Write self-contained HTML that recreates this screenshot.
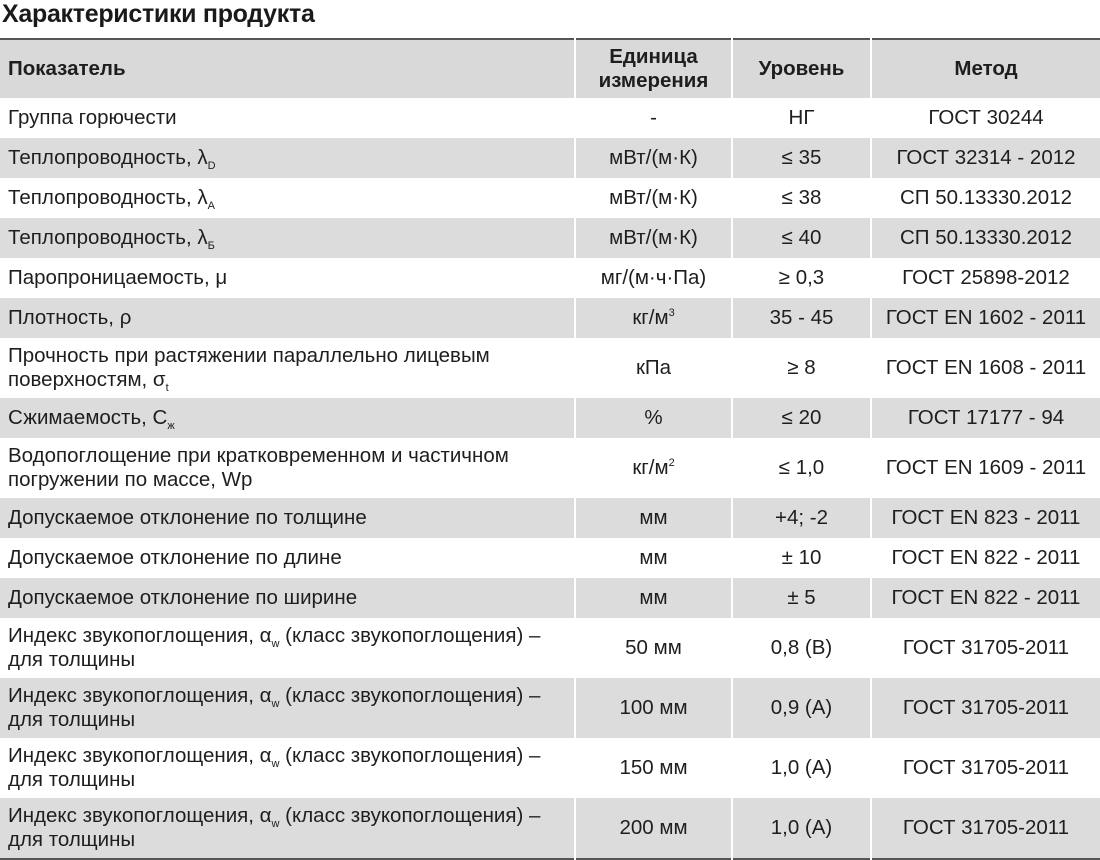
<!DOCTYPE html>
<html><head><meta charset="utf-8"><style>
body{margin:0;width:1100px;height:857px;background:#fff;font-family:"Liberation Sans","DejaVu Sans",sans-serif;color:#1e1e1e;overflow:hidden;position:relative}
h1{position:absolute;left:2px;top:0;margin:0;font-size:25px;font-weight:bold;line-height:28px;color:#1a1a1a;letter-spacing:-0.3px}
table{position:absolute;left:0;top:38px;width:1100px;border-collapse:collapse;border-top:2px solid #555;border-bottom:2px solid #555;font-size:20.5px;table-layout:fixed}
td,th{padding:0 8px;border-left:2px solid #fff;border-right:2px solid #fff;text-align:center;line-height:24px;overflow:hidden;white-space:nowrap}
td:first-child,th:first-child{text-align:left;border-left:none}
td:last-child,th:last-child{border-right:none}
th{font-weight:bold;height:58px;background:#d9d9d9}
tr.g td{background:#dcdcdc}
tr td{height:40px;padding-top:0;padding-bottom:0}
tr.t td{height:60px}
sub,sup{font-size:11px;line-height:0;vertical-align:baseline;position:relative}
sub{top:5px}
sup{top:-8px}
</style></head><body>
<h1>Характеристики продукта</h1>
<table>
<colgroup><col style="width:575px"><col style="width:157px"><col style="width:139px"><col style="width:229px"></colgroup>
<tr><th>Показатель</th><th>Единица<br>измерения</th><th>Уровень</th><th>Метод</th></tr>
<tr><td>Группа горючести</td><td>-</td><td>НГ</td><td>ГОСТ 30244</td></tr>
<tr class="g"><td>Теплопроводность, λ<sub>D</sub></td><td>мВт/(м·К)</td><td>≤ 35</td><td>ГОСТ 32314 - 2012</td></tr>
<tr><td>Теплопроводность, λ<sub>А</sub></td><td>мВт/(м·К)</td><td>≤ 38</td><td>СП 50.13330.2012</td></tr>
<tr class="g"><td>Теплопроводность, λ<sub>Б</sub></td><td>мВт/(м·К)</td><td>≤ 40</td><td>СП 50.13330.2012</td></tr>
<tr><td>Паропроницаемость, μ</td><td>мг/(м·ч·Па)</td><td>≥ 0,3</td><td>ГОСТ 25898-2012</td></tr>
<tr class="g"><td>Плотность, ρ</td><td>кг/м<sup>3</sup></td><td>35 - 45</td><td>ГОСТ EN 1602 - 2011</td></tr>
<tr class="t"><td>Прочность при растяжении параллельно лицевым<br>поверхностям, σ<sub>t</sub></td><td>кПа</td><td>≥ 8</td><td>ГОСТ EN 1608 - 2011</td></tr>
<tr class="g"><td>Сжимаемость, С<sub>ж</sub></td><td>%</td><td>≤ 20</td><td>ГОСТ 17177 - 94</td></tr>
<tr class="t"><td>Водопоглощение при кратковременном и частичном<br>погружении по массе, Wp</td><td>кг/м<sup>2</sup></td><td>≤ 1,0</td><td>ГОСТ EN 1609 - 2011</td></tr>
<tr class="g"><td>Допускаемое отклонение по толщине</td><td>мм</td><td>+4; -2</td><td>ГОСТ EN 823 - 2011</td></tr>
<tr><td>Допускаемое отклонение по длине</td><td>мм</td><td>± 10</td><td>ГОСТ EN 822 - 2011</td></tr>
<tr class="g"><td>Допускаемое отклонение по ширине</td><td>мм</td><td>± 5</td><td>ГОСТ EN 822 - 2011</td></tr>
<tr class="t"><td>Индекс звукопоглощения, α<sub>w</sub> (класс звукопоглощения) –<br>для толщины</td><td>50 мм</td><td>0,8 (В)</td><td>ГОСТ 31705-2011</td></tr>
<tr class="t g"><td>Индекс звукопоглощения, α<sub>w</sub> (класс звукопоглощения) –<br>для толщины</td><td>100 мм</td><td>0,9 (А)</td><td>ГОСТ 31705-2011</td></tr>
<tr class="t"><td>Индекс звукопоглощения, α<sub>w</sub> (класс звукопоглощения) –<br>для толщины</td><td>150 мм</td><td>1,0 (А)</td><td>ГОСТ 31705-2011</td></tr>
<tr class="t g"><td>Индекс звукопоглощения, α<sub>w</sub> (класс звукопоглощения) –<br>для толщины</td><td>200 мм</td><td>1,0 (А)</td><td>ГОСТ 31705-2011</td></tr>
</table>
</body></html>
